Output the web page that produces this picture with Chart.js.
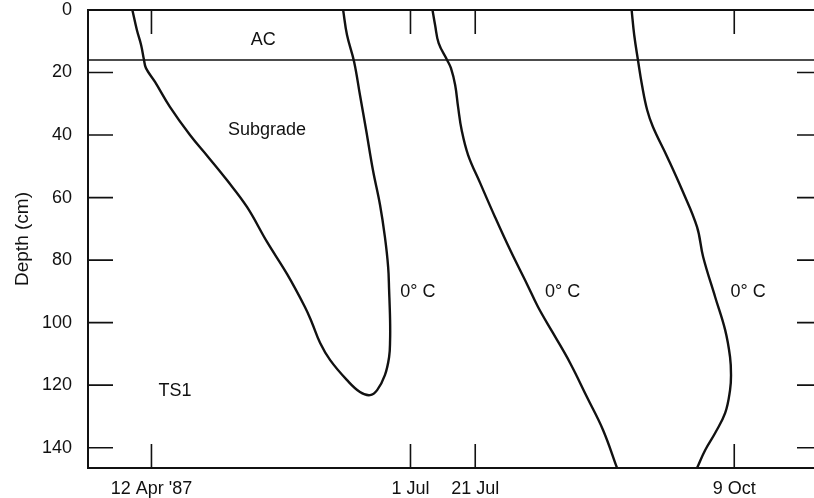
<!DOCTYPE html>
<html>
<head>
<meta charset="utf-8">
<script src="https://cdn.jsdelivr.net/npm/chart.js@4.4.1/dist/chart.umd.min.js"></script>
<style>
  html, body { margin: 0; padding: 0; background: #fff; overflow: hidden; }
  #wrap { width: 830px; height: 498px; }
</style>
</head>
<body>
<div id="wrap"><canvas id="chart" width="830" height="498"></canvas></div>
<script>
// x values are days counted from 12 Apr 1987, y values are depth in cm
const tickDays = [0, 80, 100, 180];
const tickLabels = ["12 Apr '87", "1 Jul", "21 Jul", "9 Oct"];
const depthTicks = [0, 20, 40, 60, 80, 100, 120, 140];
const acDepth = 16;

// 0 deg C isotherm, spring thaw (down then back up)
const thawDays   = [-5.9, -4.5, -3.2, -2.3, -1.7, 1.1, 5.7, 11.9, 17.5, 23.3, 29.5, 35.7, 41.9, 47.4, 49.6, 52.1, 55.2, 60.4, 64.4, 67.5, 69.7, 72.1, 73.4, 73.7, 73.7, 73.4, 73.1, 72.1, 70.6, 68.4, 66.3, 64.4, 62.6, 60.4, 59.2];
const thawDepths = [0, 6.4, 11.2, 16.0, 18.6, 23.0, 31.0, 40.0, 47.0, 54.4, 63.0, 74.2, 84.5, 95.0, 100.1, 106.5, 112.0, 118.4, 122.2, 123.2, 121.6, 116.8, 111.0, 105.6, 99.2, 89.6, 82.2, 72.6, 62.4, 51.2, 38.4, 27.2, 16.6, 8.0, 0];

// second isotherm (late July)
const julDays   = [86.8, 87.6, 88.7, 91.3, 92.5, 93.8, 94.7, 95.8, 97.8, 101.5, 106.1, 110.8, 116.0, 119.4, 124.0, 129.3, 134.5, 139.5, 143.8];
const julDepths = [0, 4.8, 10.6, 16.0, 18.6, 24.0, 31.0, 38.4, 46.4, 55.3, 66.2, 76.8, 87.7, 95.0, 103.3, 112.9, 123.8, 134.4, 146.5];

// third isotherm (September / October)
const octDays   = [148.3, 149.1, 150.3, 151.5, 153.1, 154.9, 159.3, 163.9, 168.5, 170.4, 174.1, 177.2, 178.7, 179.0, 178.7, 177.2, 174.1, 171.0, 168.5];
const octDepths = [0, 8.0, 16.3, 24.0, 32.0, 37.4, 47.0, 57.6, 69.4, 79.0, 91.8, 102.4, 111.0, 116.8, 121.6, 128.9, 135.3, 140.8, 146.5];

// text inside the plot
const noteTexts  = ["AC", "Subgrade", "TS1", "0\u00b0 C", "0\u00b0 C", "0\u00b0 C"];
const noteDays   = [34.5, 35.7, 7.3, 82.3, 127.0, 184.3];
const noteDepths = [9.6, 38.4, 122, 90.2, 90.2, 90.2];

const fontFamily = "'Liberation Sans', Arial, Helvetica, sans-serif";
const ink = "#111";

function toPoints(xs, ys) {
    return xs.map((v, i) => ({ x: v, y: ys[i] }));
}

function curve(xs, ys) {
    return {
        data: toPoints(xs, ys),
        showLine: true,
        borderColor: ink,
        borderWidth: 2.4,
        pointRadius: 0,
        tension: 0.4,
        fill: false
    };
}

const frame = {
    id: "frame",
    afterDatasetsDraw(chart) {
        const { ctx, chartArea: { left, right, top, bottom }, scales: { x, y } } = chart;
        ctx.save();
        ctx.strokeStyle = ink;
        ctx.lineWidth = 2;
        ctx.strokeRect(left, top, right - left, bottom - top);

        // inward ticks on all four sides
        ctx.lineWidth = 1.6;
        ctx.beginPath();
        tickDays.forEach(d => {
            const px = x.getPixelForValue(d);
            ctx.moveTo(px, top); ctx.lineTo(px, top + 24);
            ctx.moveTo(px, bottom); ctx.lineTo(px, bottom - 24);
        });
        depthTicks.filter(v => v > 0).forEach(v => {
            const py = y.getPixelForValue(v);
            ctx.moveTo(left, py); ctx.lineTo(left + 25, py);
            ctx.moveTo(right, py); ctx.lineTo(right - 25, py);
        });
        ctx.stroke();

        ctx.fillStyle = ink;
        ctx.font = "18px " + fontFamily;
        ctx.textAlign = "center";
        ctx.textBaseline = "middle";
        noteTexts.forEach((t, i) => {
            ctx.fillText(t, x.getPixelForValue(noteDays[i]), y.getPixelForValue(noteDepths[i]));
        });
        ctx.restore();
    }
};

new Chart(document.getElementById("chart"), {
    type: "scatter",
    data: {
        datasets: [
            {
                data: toPoints([-19.6, 207.1], [acDepth, acDepth]),
                showLine: true,
                borderColor: ink,
                borderWidth: 1.3,
                pointRadius: 0
            },
            curve(thawDays, thawDepths),
            curve(julDays, julDepths),
            curve(octDays, octDepths)
        ]
    },
    options: {
        responsive: false,
        animation: false,
        layout: { padding: { left: 0, top: 10, right: 8, bottom: 0 } },
        scales: {
            x: {
                type: "linear",
                min: -19.6,
                max: 207.1,
                afterBuildTicks: s => { s.ticks = tickDays.map(v => ({ value: v })); },
                afterFit: s => { s.height = 30; s.paddingLeft = 0; s.paddingRight = 0; },
                ticks: {
                    callback: v => tickLabels[tickDays.indexOf(v)],
                    autoSkip: false,
                    maxRotation: 0,
                    padding: 10,
                    color: ink,
                    font: { family: fontFamily, size: 18 }
                },
                grid: { display: false, drawTicks: false },
                border: { display: false }
            },
            y: {
                type: "linear",
                reverse: true,
                min: 0,
                max: 146.5,
                afterBuildTicks: s => { s.ticks = depthTicks.map(v => ({ value: v })); },
                afterFit: s => { s.width = 88; s.paddingTop = 0; s.paddingBottom = 0; },
                ticks: {
                    padding: 16,
                    color: ink,
                    font: { family: fontFamily, size: 18 }
                },
                title: {
                    display: true,
                    text: "Depth (cm)",
                    color: ink,
                    font: { family: fontFamily, size: 19 },
                    padding: { top: 11, bottom: 0 }
                },
                grid: { display: false, drawTicks: false },
                border: { display: false }
            }
        },
        plugins: {
            legend: { display: false },
            tooltip: { enabled: false }
        }
    },
    plugins: [frame]
});
</script>
</body>
</html>
